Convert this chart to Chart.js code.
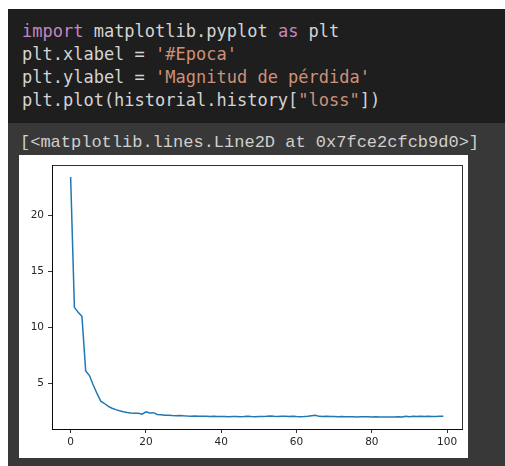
<!DOCTYPE html>
<html>
<head>
<meta charset="utf-8">
<script src="https://cdn.jsdelivr.net/npm/chart.js@4/dist/chart.umd.min.js"></script>
<style>
  html, body { margin:0; padding:0; width:505px; height:466px; background:#ffffff; overflow:hidden; }
  #code { position:absolute; left:8px; top:9px; width:497px; height:114px; background:#1e1e1e; }
  #out { position:absolute; left:8px; top:123px; width:497px; height:343px; background:#383838; }
  .code { position:absolute; left:22px; top:20px; font-family:"DejaVu Sans Mono", monospace; font-size:17px; line-height:23px; color:#d4d4d4; white-space:pre; }
  .kw { color:#c586c0; }
  .str { color:#ce9178; }
  #outtext { position:absolute; left:20px; top:132px; font-family:"Liberation Mono", monospace; font-size:17px; line-height:22px; color:#cfcfcf; white-space:pre; }
  #fig { position:absolute; left:19px; top:155px; width:449px; height:303px; background:#ffffff; }
  #c { position:absolute; left:0; top:0; }
</style>
</head>
<body>
<div id="code"></div>
<div id="out"></div>
<div class="code"><span class="kw">import</span> matplotlib.pyplot <span class="kw">as</span> plt
plt.xlabel = <span class="str">'#Epoca'</span>
plt.ylabel = <span class="str">'Magnitud de pérdida'</span>
plt.plot(historial.history[<span class="str">"loss"</span>])</div>
<div id="outtext">[&lt;matplotlib.lines.Line2D at 0x7fce2cfcb9d0&gt;]</div>
<div id="fig"><canvas id="c" width="449" height="303"></canvas></div>
<script>
const epochs = [0,1,2,3,4,5,6,7,8,9,10,11,12,13,14,15,16,17,18,19,20,21,22,23,24,25,26,27,28,29,30,31,32,33,34,35,36,37,38,39,40,41,42,43,44,45,46,47,48,49,50,51,52,53,54,55,56,57,58,59,60,61,62,63,64,65,66,67,68,69,70,71,72,73,74,75,76,77,78,79,80,81,82,83,84,85,86,87,88,89,90,91,92,93,94,95,96,97,98,99];
const loss = [23.45,11.8,11.35,11.0,6.1,5.7,4.85,4.1,3.4,3.2,
  2.95,2.78,2.65,2.55,2.47,2.4,2.35,2.32,2.33,2.25,
  2.45,2.36,2.38,2.22,2.2,2.16,2.15,2.12,2.1,2.13,
  2.1,2.08,2.07,2.08,2.06,2.05,2.05,2.04,2.05,2.03,
  2.04,2.03,2.02,2.04,2.03,2.02,2.03,2.05,2.03,2.02,
  2.04,2.03,2.05,2.08,2.05,2.04,2.07,2.05,2.03,2.05,
  2.03,2.02,2.03,2.05,2.1,2.15,2.05,2.04,2.06,2.03,
  2.04,2.02,2.03,2.02,2.01,2.02,2.0,2.02,2.01,2.02,
  2.0,2.01,2.0,1.99,2.0,1.99,2.0,2.02,2.0,2.05,
  2.02,2.06,2.03,2.05,2.04,2.06,2.03,2.04,2.05,2.06];
const xTicks = [0,20,40,60,80,100];
const yTicks = [5,10,15,20];

const frame = {
  id:'frame',
  afterDraw(chart){
    const {ctx, chartArea:a} = chart;
    ctx.save();
    ctx.strokeStyle = '#000000';
    ctx.lineWidth = 0.8;
    ctx.strokeRect(Math.round(a.left)+0.5, Math.round(a.top)+0.5, Math.round(a.right-a.left), Math.round(a.bottom-a.top));
    ctx.restore();
  }
};

new Chart(document.getElementById('c'), {
  type:'line',
  data:{
    datasets:[{
      data: epochs.map((e,i)=>({x:e, y:loss[i]})),
      borderColor:'#1f77b4',
      borderWidth:1.5,
      pointRadius:0,
      tension:0,
      fill:false
    }]
  },
  options:{
    responsive:false,
    animation:false,
    layout:{ padding:{ top:8, right:6, left:0, bottom:0 } },
    plugins:{ legend:{display:false}, tooltip:{enabled:false} },
    scales:{
      x:{
        type:'linear',
        min:-4.95, max:103.95,
        afterBuildTicks(s){ s.ticks = xTicks.map(v=>({value:v})); },
        afterFit(s){ s.height = 29; },
        grid:{ drawOnChartArea:false, drawTicks:true, tickLength:4, color:'#000000', tickWidth:0.8 },
        border:{ display:true, color:'#000000', width:0.8 },
        ticks:{ color:'#262626', font:{family:'DejaVu Sans', size:10.5}, padding:3, maxRotation:0, autoSkip:false }
      },
      y:{
        type:'linear',
        min:0.92, max:24.5,
        afterBuildTicks(s){ s.ticks = yTicks.map(v=>({value:v})); },
        afterFit(s){ s.width = 33; },
        grid:{ drawOnChartArea:false, drawTicks:true, tickLength:4, color:'#000000', tickWidth:0.8 },
        border:{ display:true, color:'#000000', width:0.8 },
        ticks:{ color:'#262626', font:{family:'DejaVu Sans', size:10.5}, padding:4, autoSkip:false }
      }
    }
  },
  plugins:[frame]
});
</script>
</body>
</html>
